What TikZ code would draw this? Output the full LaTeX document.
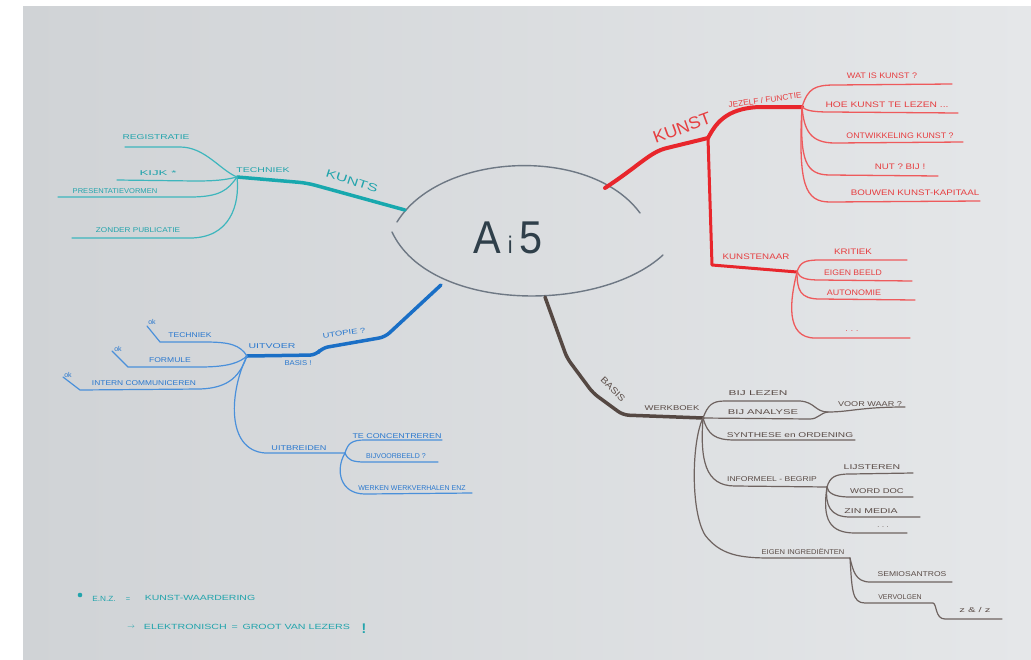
\documentclass[tikz,border=0pt]{standalone}
\usepackage{fontspec}
\setmainfont{Liberation Sans}
\begin{document}
\begin{tikzpicture}[x=1pt,y=-1pt,
  sx/.style={transform shape,xscale=#1},
  t/.style={inner sep=0pt,font=\fontsize{8}{8}\selectfont},
  ts/.style={inner sep=0pt,font=\fontsize{7}{7}\selectfont},
  rd/.style={t,text=redT}, tl/.style={ts,text=tealT}, bl/.style={ts,text=blueT}, br/.style={ts,text=brownT},
  redthick/.style={draw=redL,line width=4pt,line cap=round,line join=round},
  redthin/.style={draw=redS,line width=1.3pt,line cap=round},
  tealthick/.style={draw=tealL,line width=3.5pt,line cap=round,line join=round},
  tealthin/.style={draw=tealS,line width=1.2pt,line cap=round},
  bluethick/.style={draw=blueL,line width=3.5pt,line cap=round,line join=round},
  bluethin/.style={draw=blueS,line width=1.2pt,line cap=round,line join=round},
  brthick/.style={draw=brownL,line width=3.5pt,line cap=round,line join=round},
  brthin/.style={draw=brownS,line width=1.2pt,line cap=round,line join=round}]
\definecolor{redL}{HTML}{E8262C}\definecolor{redS}{HTML}{EE5A5C}\definecolor{redT}{HTML}{E63E40}
\definecolor{tealL}{HTML}{18A8AE}\definecolor{tealS}{HTML}{3DB6BD}\definecolor{tealT}{HTML}{22A4AC}
\definecolor{blueL}{HTML}{1A6FC6}\definecolor{blueS}{HTML}{4A90DA}\definecolor{blueT}{HTML}{2A78CE}
\definecolor{brownL}{HTML}{554843}\definecolor{brownS}{HTML}{6E6360}\definecolor{brownT}{HTML}{5A4C47}
\definecolor{paperA}{HTML}{D0D3D6}\definecolor{paperB}{HTML}{E5E7E9}
\definecolor{ellC}{HTML}{6E7884}\definecolor{ctrT}{HTML}{2F3F4A}
\useasboundingbox (0,0) rectangle (1031,659);
\fill[white] (0,0) rectangle (1031,659);
\shade[left color=paperA,right color=paperB] (23,6) rectangle (1031,659);

% centre
\draw[line width=1.4pt,draw=ellC,line cap=round] (397,222) .. controls (440,152) and (590,145) .. (640,213);
\draw[line width=1.4pt,draw=ellC,line cap=round] (392,232) .. controls (430,313) and (600,313) .. (663,255);
\node[inner sep=0pt,text=ctrT,font=\fontsize{46}{46}\selectfont,sx=0.9] (ctr) at (508,238) {A\,{\fontsize{24}{24}\selectfont i}\,5};

% ---------- red ----------
\coordinate (kj) at (708,138); \coordinate (kf) at (802,107); \coordinate (kk) at (797,272);
\draw[redthick] (605,188) .. controls (640,165) and (650,152) .. (667,148) -- (kj);
\draw[redthick] (kj) .. controls (715,125) and (725,108) .. (760,107) -- (kf);
\draw[redthick,line width=3pt] (kj) -- (712,265) -- (kk);
\draw[redthin] (kf) .. controls (808,88) and (815,85) .. (835,85) -- (952,84);
\draw[redthin] (kf) .. controls (806,110) and (810,112) .. (830,112) -- (958,113);
\draw[redthin] (kf) .. controls (804,130) and (810,143) .. (835,143) -- (963,142);
\draw[redthin] (kf) .. controls (800,160) and (805,175) .. (830,175) -- (938,176);
\draw[redthin] (kf) .. controls (798,185) and (805,202) .. (830,202) -- (980,201);
\draw[redthin] (kk) .. controls (800,262) and (805,260) .. (820,260) -- (907,260);
\draw[redthin] (kk) .. controls (800,278) and (805,280) .. (820,280) -- (912,281);
\draw[redthin] (kk) .. controls (797,290) and (800,299) .. (820,299) -- (915,300);
\draw[redthin] (kk) .. controls (790,300) and (785,338) .. (815,338) -- (910,338);
\node[rd,font=\fontsize{17}{17}\selectfont,rotate=20,sx=1.05] (kunst) at (682,128) {KUNST};
\node[rd,rotate=8,sx=1.05] (functie) at (765,100) {JEZELF / FUNCTIE};
\node[rd,sx=1.12] (r1) at (882,76) {WAT IS KUNST ?};
\node[rd,sx=1.28] (r2) at (887,105) {HOE KUNST TE LEZEN ...};
\node[rd,sx=1.1] (r3) at (900,136) {ONTWIKKELING KUNST ?};
\node[rd,sx=1.22] (r4) at (900,167) {NUT ? BIJ !};
\node[rd,sx=1.22] (r5) at (915,193) {BOUWEN KUNST-KAPITAAL};
\node[rd,sx=1.22] (kstnr) at (756,257) {KUNSTENAAR};
\node[rd,sx=1.22] (r6) at (853,252) {KRITIEK};
\node[rd,sx=1.08] (r7) at (853,273) {EIGEN BEELD};
\node[rd,sx=1.12] (r8) at (854,293) {AUTONOMIE};
\node[rd] (r9) at (852,331) {. . .};

% ---------- brown ----------
\coordinate (bj) at (703,418); \coordinate (ij) at (827,487); \coordinate (gj) at (850,558); \coordinate (wj) at (828,412);
\draw[brthick,rounded corners=6pt] (545,297) -- (567,358) -- (593,393) -- (623,415) -- (bj);
\draw[brthin] (bj) .. controls (708,405) and (712,401) .. (725,401) -- (800,401) .. controls (815,402) and (815,412) .. (wj) .. controls (850,412) and (860,407) .. (905,407);
\draw[brthin] (bj) -- (810,419) .. controls (818,419) and (820,413) .. (wj);
\draw[brthin] (bj) .. controls (708,435) and (715,440) .. (735,440) -- (855,440);
\draw[brthin] (bj) .. controls (700,460) and (705,486) .. (735,486) -- (ij);
\draw[brthin] (ij) .. controls (830,477) and (835,474) .. (850,474) -- (913,473);
\draw[brthin] (ij) .. controls (828,492) and (832,497) .. (850,497) -- (913,497);
\draw[brthin] (ij) .. controls (825,505) and (830,517) .. (850,517) -- (920,517);
\draw[brthin] (ij) .. controls (822,520) and (830,533) .. (855,533) -- (907,533);
\draw[brthin] (bj) .. controls (692,440) and (690,510) .. (705,535) .. controls (720,555) and (740,558) .. (770,558) -- (gj);
\draw[brthin] (gj) .. controls (853,570) and (855,582) .. (870,582) -- (952,582);
\draw[brthin] (gj) .. controls (852,590) and (852,603) .. (865,603) -- (933,603) .. controls (937,604) and (935,619) .. (945,619) -- (1002,619);
\node[br,font=\fontsize{9}{9}\selectfont,rotate=-45,sx=1.15] (basis) at (613,389) {BASIS};
\node[br,sx=1.35] (b0) at (672,408) {WERKBOEK};
\node[br,sx=1.7] (b1) at (758,393) {BIJ LEZEN};
\node[br,sx=1.6] (b2) at (763,412) {BIJ ANALYSE};
\node[br,sx=1.3] (b3) at (870,404) {VOOR WAAR ?};
\node[br,sx=1.45] (b4) at (790,435) {SYNTHESE en ORDENING};
\node[br,sx=1.22] (b5) at (772,479) {INFORMEEL - BEGRIP};
\node[br,sx=1.5] (b6) at (872,467) {LIJSTEREN};
\node[br,sx=1.35] (b7) at (877,491) {WORD DOC};
\node[br,sx=1.5] (b8) at (871,511) {ZIN MEDIA};
\node[br] (b9) at (883,527) {. . .};
\node[br,sx=1.08] (b10) at (803,552) {EIGEN INGREDI\"ENTEN};
\node[br,sx=1.22] (b11) at (912,574) {SEMIOSANTROS};
\node[br] (b12) at (900,597) {VERVOLGEN};
\node[br,sx=1.6] (b13) at (975,610) {z \& / z};

% ---------- teal ----------
\coordinate (tj) at (237,177);
\draw[tealthick,rounded corners=8pt] (405,210) -- (307,183) -- (tj);
\draw[tealthin] (tj) .. controls (220,170) and (205,147) .. (180,147) -- (125,147);
\draw[tealthin] (tj) .. controls (225,180) and (215,181) .. (195,181) -- (117,180);
\draw[tealthin] (tj) .. controls (228,190) and (220,197) .. (190,197) -- (58,197);
\draw[tealthin] (tj) .. controls (240,205) and (230,238) .. (190,238) -- (72,238);
\node[tl,font=\fontsize{11}{11}\selectfont,rotate=-18,sx=1.45] (kunts) at (352,181) {KUNTS};
\node[tl,sx=1.5] (t0) at (263,170) {TECHNIEK};
\node[tl,sx=1.45] (t1) at (156,137) {REGISTRATIE};
\node[tl,sx=1.9] (t2) at (158,173) {KIJK *};
\node[tl,sx=1.08] (t3) at (115,191) {PRESENTATIEVORMEN};
\node[tl,sx=1.17] (t4) at (138,230) {ZONDER PUBLICATIE};

% ---------- blue ----------
\coordinate (uj0) at (247,356); \coordinate (uj) at (345,453);
\draw[bluethick,rounded corners=6pt] (441,285) -- (385,337) -- (322,348) -- (316,355) -- (uj0);
\draw[bluethin] (uj0) .. controls (240,345) and (230,342) .. (205,342) -- (160,342) -- (147,326);
\draw[bluethin] (uj0) .. controls (240,362) and (230,367) .. (200,367) -- (128,367) -- (112,351);
\draw[bluethin] (uj0) .. controls (240,375) and (230,388) .. (200,389) -- (80,390) -- (63,377);
\draw[bluethin] (uj0) .. controls (230,390) and (225,450) .. (265,453) -- (uj);
\draw[bluethin] (uj) .. controls (348,443) and (352,440) .. (365,440) -- (442,440);
\draw[bluethin] (uj) .. controls (348,460) and (352,462) .. (365,462) -- (438,462);
\draw[bluethin] (uj) .. controls (335,470) and (340,494) .. (365,494) -- (472,493);
\node[bl,rotate=8,sx=1.35] (utopie) at (344,333) {UTOPIE ?};
\node[bl,sx=1.5] (u0) at (272,346) {UITVOER};
\node[bl,sx=1.1] (u1) at (298,363) {BASIS !};
\node[bl] (ok1) at (152,322) {ok};
\node[bl] (ok2) at (118,349) {ok};
\node[bl] (ok3) at (68,375) {ok};
\node[bl,sx=1.22] (u2) at (190,335) {TECHNIEK};
\node[bl,sx=1.22] (u3) at (170,360) {FORMULE};
\node[bl,sx=1.2] (u4) at (144,383) {INTERN COMMUNICEREN};
\node[bl,sx=1.3] (u5) at (299,448) {UITBREIDEN};
\node[bl,sx=1.27] (u6) at (397,436) {TE CONCENTREREN};
\node[bl] (u7) at (396,456) {BIJVOORBEELD ?};
\node[bl] (u8) at (412,488) {WERKEN WERKVERHALEN ENZ};

% ---------- notes ----------
\fill[tealT] (80,595) circle (2.3pt);
\node[tl,font=\fontsize{7.5}{7.5}\selectfont,sx=1.1] (n1a) at (104,599) {E.N.Z.};
\node[tl,font=\fontsize{7.5}{7.5}\selectfont] (n1b) at (128,600) {=};
\node[tl,font=\fontsize{7.5}{7.5}\selectfont,sx=1.4] (n1c) at (200,598) {KUNST-WAARDERING};
\node[tl,font=\fontsize{7.5}{7.5}\selectfont] (n2a) at (131,627) {$\rightarrow$};
\node[tl,font=\fontsize{7.5}{7.5}\selectfont,sx=1.42] (n2b) at (247,627) {ELEKTRONISCH \,=\, GROOT VAN LEZERS};
\node[tl,font=\fontsize{14}{14}\selectfont\bfseries] (n3) at (364,629) {!};
\end{tikzpicture}
\end{document}
